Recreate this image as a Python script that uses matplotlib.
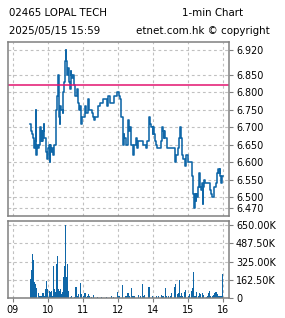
import matplotlib
matplotlib.use("Agg")
import matplotlib.pyplot as plt
from matplotlib.ticker import FuncFormatter

# minute prices (clock time, last price)
price_times = [
    "09:30", "09:31", "09:33", "09:34", "09:36", "09:38", "09:39", "09:40", "09:41", "09:43",
    "09:45", "09:46", "09:47", "09:48", "09:49", "09:50", "09:51", "09:53", "09:54", "09:56",
    "09:57", "09:58", "10:00", "10:02", "10:03", "10:04", "10:06", "10:07", "10:09", "10:10",
    "10:13", "10:14", "10:15", "10:17", "10:18", "10:20", "10:21", "10:23", "10:25", "10:26",
    "10:27", "10:29", "10:30", "10:31", "10:33", "10:35", "10:36", "10:37", "10:39", "10:40",
    "10:41", "10:43", "10:44", "10:46", "10:47", "10:49", "10:51", "10:53", "10:54", "10:56",
    "10:57", "10:59", "11:03", "11:05", "11:09", "11:10", "11:11", "11:15", "11:17", "11:19",
    "11:21", "11:26", "11:29", "11:35", "11:41", "11:42", "11:46", "11:53", "11:59",
    "13:02", "13:04", "13:05", "13:08", "13:10", "13:11", "13:14", "13:17", "13:19", "13:21",
    "13:22", "13:23", "13:25", "13:26", "13:28", "13:30", "13:33", "13:35", "13:42", "13:47",
    "13:49", "13:53", "13:54", "13:56", "13:59", "14:00", "14:02", "14:03", "14:05", "14:07",
    "14:14", "14:16", "14:17", "14:18", "14:19", "14:21", "14:23", "14:37", "14:38", "14:40",
    "14:43", "14:45", "14:46", "14:47", "14:49", "14:50", "14:51", "14:55", "14:57", "14:59",
    "15:00", "15:06", "15:07", "15:08", "15:09", "15:10", "15:11", "15:13", "15:14", "15:15",
    "15:17", "15:18", "15:19", "15:20", "15:22", "15:23", "15:25", "15:26", "15:27", "15:29",
    "15:37", "15:38", "15:39", "15:41", "15:44", "15:47", "15:49", "15:50", "15:51", "15:53",
    "15:54", "15:55", "15:57", "15:58", "15:59",
]
price_values = [
    6.71, 6.69, 6.68, 6.67, 6.64, 6.66, 6.75, 6.62, 6.65, 6.64,
    6.65, 6.69, 6.70, 6.66, 6.69, 6.66, 6.69, 6.71, 6.67, 6.64,
    6.63, 6.61, 6.64, 6.65, 6.60, 6.65, 6.63, 6.64, 6.62, 6.65,
    6.65, 6.75, 6.79, 6.85, 6.73, 6.71, 6.76, 6.75, 6.74, 6.80,
    6.83, 6.89, 6.92, 6.89, 6.85, 6.87, 6.83, 6.81, 6.86, 6.85,
    6.84, 6.85, 6.82, 6.81, 6.79, 6.81, 6.77, 6.75, 6.76, 6.73,
    6.71, 6.73, 6.76, 6.74, 6.78, 6.77, 6.75, 6.74, 6.73, 6.72,
    6.73, 6.76, 6.77, 6.78, 6.76, 6.79, 6.77, 6.79, 6.80,
    6.79, 6.78, 6.73, 6.65, 6.68, 6.67, 6.65, 6.72, 6.69, 6.70,
    6.67, 6.65, 6.64, 6.62, 6.65, 6.67, 6.64, 6.66, 6.65, 6.64,
    6.66, 6.73, 6.71, 6.70, 6.68, 6.70, 6.68, 6.66, 6.65, 6.64,
    6.66, 6.70, 6.69, 6.67, 6.69, 6.67, 6.64, 6.63, 6.60, 6.62,
    6.64, 6.67, 6.70, 6.67, 6.64, 6.62, 6.61, 6.59, 6.62, 6.61,
    6.60, 6.59, 6.56, 6.54, 6.51, 6.47, 6.51, 6.49, 6.51, 6.50,
    6.53, 6.55, 6.57, 6.53, 6.52, 6.54, 6.48, 6.53, 6.55, 6.54,
    6.53, 6.52, 6.51, 6.50, 6.53, 6.54, 6.56, 6.57, 6.58, 6.57,
    6.58, 6.56, 6.54, 6.56, 6.56,
]
prev_close = 6.82

# minute volumes in thousands of shares
vol_times = [
    "09:30", "09:31", "09:32", "09:33", "09:34", "09:35", "09:36", "09:37", "09:38", "09:39",
    "09:41", "09:43", "09:45", "09:46", "09:48", "09:50", "09:51", "09:52", "09:54", "09:55",
    "09:57", "09:58", "09:59", "10:01", "10:03", "10:05", "10:06", "10:08", "10:10", "10:11",
    "10:13", "10:14", "10:15", "10:17", "10:18", "10:19", "10:21", "10:22", "10:24", "10:25",
    "10:27", "10:28", "10:30", "10:31", "10:32", "10:33", "10:34", "10:35", "10:38", "10:41",
    "10:45", "10:47", "10:48", "10:50", "10:51", "10:53", "10:55", "10:57", "10:58", "11:00",
    "11:02", "11:04", "11:06", "11:08", "11:10", "11:11", "11:14", "11:18", "11:25", "11:32",
    "11:40", "11:48", "11:52", "11:59", "13:01", "13:03", "13:07", "13:13", "13:14", "13:16",
    "13:18", "13:19", "13:23", "13:25", "13:26", "13:28", "13:35", "13:38", "13:42", "13:44",
    "13:46", "13:53", "13:54", "13:59", "14:06", "14:10", "14:14", "14:15", "14:17", "14:22",
    "14:23", "14:26", "14:30", "14:32", "14:36", "14:37", "14:39", "14:41", "14:43", "14:45",
    "14:46", "14:47", "14:49", "14:50", "14:53", "14:55", "15:00", "15:02", "15:03", "15:05",
    "15:06", "15:07", "15:09", "15:10", "15:11", "15:13", "15:14", "15:17", "15:19", "15:21",
    "15:22", "15:24", "15:26", "15:31", "15:34", "15:35", "15:37", "15:39", "15:41", "15:44",
    "15:46", "15:47", "15:49", "15:50", "15:52", "15:54", "15:55", "15:58", "15:59",
]
vol_values = [
    165, 175, 250, 300, 390, 335, 145, 40, 125, 125,
    89, 42, 21, 15, 21, 42, 42, 42, 21, 80,
    89, 152, 80, 6, 65, 51, 65, 15, 289, 80,
    51, 214, 304, 378, 80, 65, 80, 51, 36, 51,
    185, 289, 650, 150, 190, 300, 130, 60, 6, 21,
    6, 15, 95, 6, 15, 36, 131, 15, 36, 21,
    42, 42, 6, 15, 36, 15, 6, 30, 6, 6,
    6, 15, 6, 54, 15, 21, 119, 15, 21, 42,
    42, 21, 86, 21, 21, 15, 27, 15, 125, 15,
    27, 95, 15, 15, 15, 15, 27, 15, 15, 86,
    15, 15, 21, 45, 42, 95, 125, 36, 45, 95,
    164, 15, 45, 15, 51, 72, 21, 36, 36, 45,
    66, 86, 140, 235, 21, 15, 57, 15, 45, 15,
    36, 45, 27, 6, 15, 42, 66, 21, 15, 30,
    42, 57, 51, 36, 21, 21, 21, 20, 215,
]

hour_labels = ["09", "10", "11", "12", "14", "15", "16"]
price_ticks = [6.47, 6.50, 6.55, 6.60, 6.65, 6.70, 6.75, 6.80, 6.85, 6.92]
vol_ticks = [0, 162.5, 325, 487.5, 650]


def to_axis(t):
    # minutes since 09:00 with the lunch hour (12:00-13:00) taken out
    h, m = map(int, t.split(":"))
    mins = h * 60 + m - 9 * 60
    if h >= 13:
        mins -= 60
    return mins


LINE = "#0f67a8"
GRID = "#c0c0c0"
FRAME = "#808080"

fig = plt.figure(figsize=(2.85, 3.18), dpi=100)
ax_p = fig.add_axes([8 / 285, 1 - 216 / 318, 221 / 285, 174 / 318])
ax_v = fig.add_axes([8 / 285, 1 - 298 / 318, 221 / 285, 77 / 318])

px = [to_axis(t) for t in price_times]
ax_p.plot(px, price_values, color=LINE, lw=1.15, drawstyle="steps-post")
ax_p.axhline(prev_close, color="#e3136f", lw=1.1)

vx = [to_axis(t) for t in vol_times]
ax_v.bar(vx, vol_values, width=1.8, color=LINE, linewidth=0, align="center")

hour_pos = [0, 60, 120, 180, 240, 300, 360]
for ax in (ax_p, ax_v):
    ax.set_xlim(-8.5, 370)
    ax.set_xticks(hour_pos)
    ax.yaxis.tick_right()
    ax.grid(True, color=GRID, lw=0.8, ls=(0, (2.5, 2.5)))
    ax.set_axisbelow(True)
    for s in ax.spines.values():
        s.set_color(FRAME)
        s.set_linewidth(1.1)
    ax.tick_params(axis="both", colors=FRAME, length=3, width=0.8,
                   labelcolor="black", labelsize=6.9, pad=2)

ax_p.set_ylim(6.4472, 6.9428)
ax_p.set_yticks(price_ticks)
ax_p.set_yticklabels([f"{v:.3f}" for v in price_ticks])
ax_p.tick_params(axis="x", length=0, labelbottom=False)

ax_v.set_ylim(0, 686)
ax_v.set_yticks(vol_ticks)
ax_v.yaxis.set_major_formatter(FuncFormatter(lambda v, p: "0" if v == 0 else f"{v:.2f}K"))
ax_v.set_xticklabels(hour_labels)

fig.text(9 / 285, 1 - 13 / 318, "02465 LOPAL TECH", fontsize=7.4, va="center", ha="left")
fig.text(182 / 285, 1 - 13 / 318, "1-min Chart", fontsize=7.4, va="center", ha="left")
fig.text(9 / 285, 1 - 31 / 318, "2025/05/15 15:59", fontsize=7.4, va="center", ha="left")
fig.text(136 / 285, 1 - 31 / 318, "etnet.com.hk \u00a9 copyright", fontsize=7.4, va="center", ha="left")

fig.savefig("out.png", dpi=100, facecolor="white")
